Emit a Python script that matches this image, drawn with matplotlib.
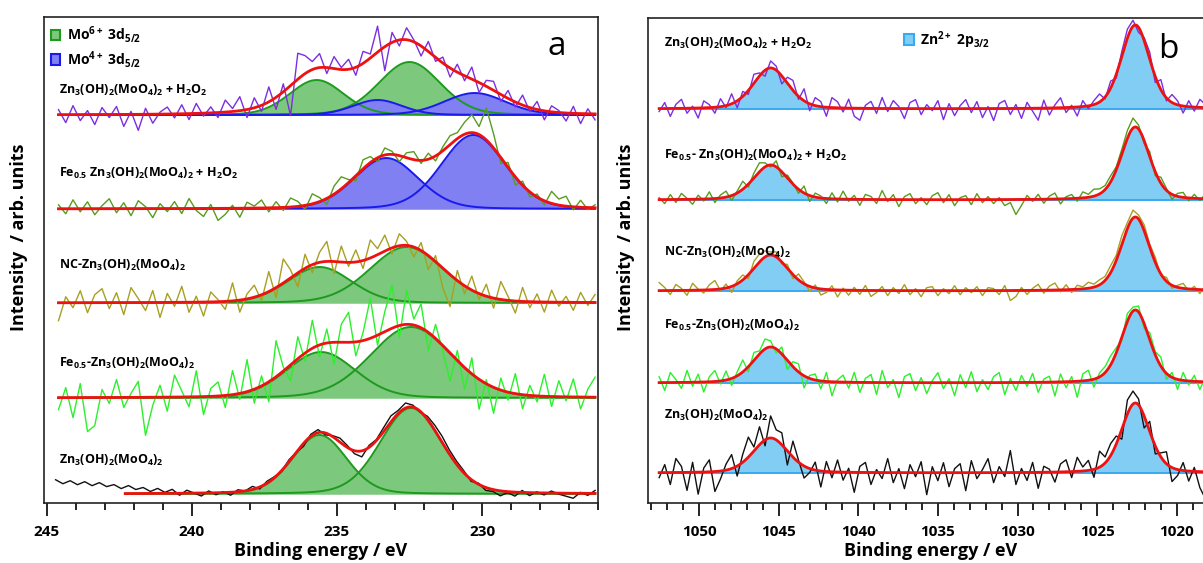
import numpy as np
import matplotlib
matplotlib.use("Agg")
import matplotlib.pyplot as plt
from matplotlib.patches import Rectangle
from matplotlib.ticker import MultipleLocator

plt.rcParams['font.family'] = ['Open Sans', 'DejaVu Sans']
plt.rcParams['mathtext.fontset'] = 'custom'
plt.rcParams['mathtext.rm'] = 'Open Sans'
plt.rcParams['mathtext.bf'] = 'Open Sans:bold'
plt.rcParams['mathtext.default'] = 'bf'

# ---------------- panel a : Mo 3d ----------------
a_labels = [r'Zn$_3$(OH)$_2$(MoO$_4$)$_2$ + H$_2$O$_2$',
            r'Fe$_{0.5}$ Zn$_3$(OH)$_2$(MoO$_4$)$_2$ + H$_2$O$_2$',
            r'NC-Zn$_3$(OH)$_2$(MoO$_4$)$_2$',
            r'Fe$_{0.5}$-Zn$_3$(OH)$_2$(MoO$_4$)$_2$',
            r'Zn$_3$(OH)$_2$(MoO$_4$)$_2$']
a_offsets = [388, 294, 200, 105, 9]
a_raw_colors = ['#7b2fe0', '#579c1f', '#a89f23', '#2bf02b', '#111111']
a_raw_range = [(244.6, 226.1)] * 4 + [(244.7, 226.1)]
a_fit_range = [(244.6, 226.1)] * 4 + [(242.3, 226.1)]
# components: (centre eV, height, FWHM eV)
a_mo6 = [[(235.7, 35, 2.2), (232.5, 53, 2.5)],
         [],
         [(235.6, 36, 2.6), (232.6, 56, 3.0)],
         [(235.55, 46, 2.8), (232.45, 71, 3.3)],
         [(235.6, 59, 2.2), (232.45, 86, 2.5)]]
a_mo4 = [[(233.6, 15, 2.0), (230.25, 22, 2.5)],
         [(233.3, 51, 2.6), (230.3, 74, 2.6)],
         [], [], []]
a_extra = [[(233.6, 13, 6.0)], [], [], [], []]   # unassigned envelope contribution
a_res = [
    [5, -8, 9, -6, 4, -10, 7, -3, 8, -12, 3, -16, 6, -9, 2, 7, -4, 9, -6, 10, -3, 6, -5, 12, 3,
     14, -8, 10, -6, 15, -12, 8, -30, 26, 18, 8, 14, -6, 12, 2, 10, -8, 12, 4, 26, -24, 10, -6,
     12, 2, -10, 10, -4, 6, -9, 8, -5, 12, -10, 6, 9, -7, 8, -5, 10, -4, 8, -9, 6, 2, -8, 7, -10, 5, -6],
    [4, -5, 9, -3, 7, -6, 3, 10, -4, 6, -7, 8, 2, -9, 5, -3, 7, -5, 10, -2, -8, 4, -12, -6, 3, -9,
     6, 2, 8, -4, 6, -3, 9, 5, -4, 10, 4, -6, 8, 12, 3, -5, 9, 6, -4, 7, 3, -6, 5, 8, -3, 6, -5, 4,
     9, 6, 12, 18, 8, 32, 14, -6, 5, -8, 4, -5, 3, -4, 12, 6, 10, -3, 7, -2, 3],
    [-18, 6, -5, 12, -10, 8, 14, -6, 10, -12, 15, 4, -8, 12, -15, 9, -4, 16, -10, 6, -14, 10, 2,
     -8, 18, -12, 5, 12, -6, 20, -10, 24, 8, -14, 14, -8, 10, 20, -12, 16, -4, 12, -8, 18, 6, 16,
     -6, 12, 4, -10, 8, -14, 6, -20, -32, 10, -8, 14, -6, 12, -10, 18, 4, -12, 14, -6, 8, -10, 12,
     -4, 6, -8, 10, -3, 8],
    [-12, 10, -20, 14, -34, -28, 8, -6, 18, -10, 4, 16, -38, -8, 12, -14, 22, 6, -10, 26, -18, 8,
     14, -12, 24, -6, 32, -14, 10, -20, 36, 4, -16, 22, -8, 28, -12, 14, -22, 18, 30, -14, 8, 40,
     -10, 20, 43, -12, 34, 6, 24, -18, 14, -6, -28, 10, -22, 16, -30, 4, -26, 12, -8, 20, -14, 10,
     -6, 22, -10, 16, -4, 18, -12, 8, 20],
    [14, 10, 13, 9, 12, 8, 11, 7, 9, 5, 8, 4, 6, 2, 5, 1, 4, -2, 3, 0, -3, 2, -2, 1, -3, 2, 0, 3,
     -2, 2, 1, -1, 2, 0, -3, 2, 3, -2, 1, 4, 2, -3, -6, 2, 1, 4, 6, 3, 5, 2, -1, 3, 5, 6, 4, 3, 2,
     -2, 1, -3, -2, -5, -1, -4, 2, -3, 1, -2, 2, -1, -3, -5, 1, -2, 3],
]

# ---------------- panel b : Zn 2p ----------------
b_labels = [r'Zn$_3$(OH)$_2$(MoO$_4$)$_2$ + H$_2$O$_2$',
            r'Fe$_{0.5}$- Zn$_3$(OH)$_2$(MoO$_4$)$_2$ + H$_2$O$_2$',
            r'NC-Zn$_3$(OH)$_2$(MoO$_4$)$_2$',
            r'Fe$_{0.5}$-Zn$_3$(OH)$_2$(MoO$_4$)$_2$',
            r'Zn$_3$(OH)$_2$(MoO$_4$)$_2$']
b_offsets = [394, 303, 212, 120, 30]
b_raw_colors = ['#7b2fe0', '#579c1f', '#a89f23', '#2bf02b', '#111111']
b_range = (1052.5, 1018.2)
b_zn_2p12 = [(1045.5, 41, 2.6), (1045.5, 35, 2.6), (1045.5, 36, 2.6), (1045.5, 36, 2.6), (1045.5, 35, 2.6)]
b_zn_2p32 = [(1022.6, 84, 2.1), (1022.6, 73, 2.1), (1022.6, 74, 2.1), (1022.6, 73, 2.1), (1022.6, 70, 2.1)]
b_res = [
    [-3, 6, -8, 4, 9, -5, 2, -10, 7, 3, -6, 8, -2, 10, -7, 5, -4, 9, 3, -6, 7, 4, -8, 6, 10, -3,
     12, -7, 8, 5, -9, 10, 6, -4, 9, -8, -12, 3, 7, -5, 11, -3, 8, 2, -10, 6, 9, -6, 4, -2, 8, -11,
     5, -7, 3, 9, -4, 7, -9, 2, -12, 5, 8, -6, 4, -10, 6, -3, -12, 8, -7, 3, 10, -5, 2, -9, 6, -3,
     4, 8, -2, 7, -4, 5, 9, 6, -5, 3, 7, -6, 10, -3, 8, 4, -7, 6, -4, 8, 3],
    [2, -4, 5, -3, 6, 1, -5, 4, -2, 7, -4, 3, 6, -5, 2, 8, -3, 5, 9, 4, -2, 6, -5, 3, 1, -4, 7,
     -6, 4, 2, -5, 6, -3, 8, -2, 4, -6, 5, 3, -4, 9, -2, 5, -7, 3, 6, -4, 2, -5, 4, 7, -3, 5, -6,
     2, 4, -5, 6, -3, 3, -4, 2, -6, -3, -15, -6, 4, -2, 5, -4, 3, 6, -5, 2, 4, -3, 6, 3, 7, 5, 4,
     6, 3, 5, 8, 10, 4, -3, 5, -4, 6, 2, -5, 3, 5, -3, 4, -2, 5],
    [8, 3, -4, 6, 2, -5, 7, 1, -3, 5, 9, -2, 4, -6, 3, 5, -4, 7, 8, 6, 3, 5, -2, 4, -4, 6, 2, -5,
     3, -6, -3, 4, -7, 2, -5, 3, -4, 5, -6, -2, 4, -5, 3, -3, 6, -4, 2, -6, 3, 4, -5, 2, -3, 5, -4,
     3, -2, 4, -5, 3, 2, -4, 5, -10, -6, 3, -4, 2, 6, -3, 4, 7, -2, 5, -3, 4, 2, 6, 3, 5, 4, 7, 5,
     9, 6, 8, 4, 6, 3, 5, -2, 4, -3, 2, 5, -2, 3, -4, 4],
    [6, -8, 10, 3, -6, 12, -4, 8, -10, 5, 11, -3, 9, -7, 4, 12, -5, 8, 3, 10, 6, -4, 7, -9, 5, 8,
     -12, 3, 6, -8, 9, -14, 2, 7, -6, 10, -10, 4, 8, -12, 12, -5, 3, -15, 6, 9, -8, 5, -11, 2, 10,
     -6, 4, -13, 8, -5, 11, -9, 3, -7, 6, 10, -12, 4, -8, 7, -4, 9, -10, 3, 6, -14, 8, -6, 5, -16,
     7, 10, -8, 4, 6, 9, 5, -3, 8, 4, 6, -5, 7, 3, 9, -6, 5, -10, 8, -4, 6, -8, 5],
    [-5, 8, -12, 14, 6, -18, 10, -22, 4, 12, -20, -8, 6, 14, -10, 8, 20, 4, 18, -6, 22, 10, 12,
     -14, 16, 2, -12, -4, 8, -16, 10, -6, 12, -8, 4, -20, 6, 10, -12, 3, -6, 14, -10, 4, -16, 8,
     -4, 11, -22, 6, -8, 10, -14, 4, 9, -18, 12, -6, 3, 14, -10, 6, -4, 22, -12, 4, -8, 10, -16,
     6, 3, -10, 8, 12, -6, 14, 4, 10, -8, 16, 6, 12, 8, -10, 14, 13, 6, -12, 10, -8, 4, 12, -14,
     -6, 8, -10, 4, -16, -27],
]

a_ticks = [245, 240, 235, 230]
b_ticks = [1050, 1045, 1040, 1035, 1030, 1025, 1020]

RED = '#ee1111'
G_FILL, G_LINE = '#7cc87c', '#1e9a1e'
B_FILL, B_LINE = '#8080f2', '#1a1aee'
Z_FILL, Z_LINE = '#82cdf4', '#3aaaf0'


def pv(E, c, h, w, m):
    u = (E - c) / w
    return h * ((1 - m) * np.exp(-4 * np.log(2) * u ** 2) + m / (1 + 4 * u ** 2))


W, H = 1203, 563
fig = plt.figure(figsize=(W / 100, H / 100), dpi=100)

def px_axes(l, r, t, b):
    return fig.add_axes([l / W, (H - b) / H, (r - l) / W, (b - t) / H])

axa = px_axes(44, 598, 17, 503)
axb = px_axes(648, 1215, 18, 503)

# ---- panel a
M_A = 0.15
for i in range(5):
    off = a_offsets[i]
    Ef = np.linspace(a_fit_range[i][0], a_fit_range[i][1], 400)
    env = np.zeros_like(Ef)
    for comps, fc, lc in [(a_mo6[i], G_FILL, G_LINE), (a_mo4[i], B_FILL, B_LINE)]:
        for (c, h, w) in comps:
            y = pv(Ef, c, h, w, M_A)
            env += y
            axa.fill_between(Ef, off, off + y, color=fc, lw=0, zorder=1)
    for comps, lc in [(a_mo6[i], G_LINE), (a_mo4[i], B_LINE)]:
        for (c, h, w) in comps:
            axa.plot(Ef, off + pv(Ef, c, h, w, M_A), color=lc, lw=1.4, zorder=2)
    for (c, h, w) in a_extra[i]:
        env += pv(Ef, c, h, w, M_A)
    # raw
    res = np.array(a_res[i], float)
    Er = np.linspace(a_raw_range[i][0], a_raw_range[i][1], len(res))
    envr = np.zeros_like(Er)
    for comps in (a_mo6[i], a_mo4[i], a_extra[i]):
        for (c, h, w) in comps:
            envr += pv(Er, c, h, w, M_A)
    axa.plot(Er, off + envr + res, color=a_raw_colors[i], lw=1.0, zorder=3)
    axa.plot(Ef, off + env, color=RED, lw=2.0, zorder=4)

a_label_y = [413, 330, 238, 140, 43]
for lab, y in zip(a_labels, a_label_y):
    axa.text(244.6, y, lab, fontsize=9, fontweight='bold', va='center', ha='left', zorder=5)

axa.set_xlim(245.1, 226.0)
axa.set_ylim(0, 486)
axa.set_xticks(a_ticks)
axa.xaxis.set_minor_locator(MultipleLocator(1))

# legend a
for yy, fc, ec, lab in [(0.963, G_FILL, G_LINE, r'Mo$^{6+}$ 3d$_{5/2}$'),
                        (0.912, B_FILL, B_LINE, r'Mo$^{4+}$ 3d$_{5/2}$')]:
    axa.add_patch(Rectangle((0.012, yy - 0.011), 0.017, 0.022, transform=axa.transAxes,
                            facecolor=fc, edgecolor=ec, lw=1.5, zorder=6))
    axa.text(0.042, yy, lab, transform=axa.transAxes, fontsize=10, fontweight='bold',
             va='center', ha='left')
axa.text(0.925, 0.94, 'a', transform=axa.transAxes, fontsize=24, ha='center', va='center')

# ---- panel b
M_B = 0.3
for i in range(5):
    off = b_offsets[i]
    Ef = np.linspace(b_range[0], b_range[1], 600)
    env = np.zeros_like(Ef)
    for (c, h, w) in (b_zn_2p12[i], b_zn_2p32[i]):
        y = pv(Ef, c, h, w, M_B)
        env += y
        axb.fill_between(Ef, off, off + y, color=Z_FILL, lw=0, zorder=1)
    axb.plot(Ef, np.full_like(Ef, off), color=Z_LINE, lw=1.4, zorder=2)
    res = np.array(b_res[i], float)
    Er = np.linspace(b_range[0], b_range[1], len(res))
    envr = pv(Er, *b_zn_2p12[i], M_B) + pv(Er, *b_zn_2p32[i], M_B)
    axb.plot(Er, off + envr + res, color=b_raw_colors[i], lw=1.0, zorder=3)
    axb.plot(Ef, off + env, color=RED, lw=2.0, zorder=4)

b_label_y = [460, 348, 251, 178, 88]
for lab, y in zip(b_labels, b_label_y):
    axb.text(1052.2, y, lab, fontsize=9, fontweight='bold', va='center', ha='left', zorder=5)

axb.set_xlim(1053.2, 1017.6)
axb.set_ylim(0, 485)
axb.set_xticks(b_ticks)
axb.xaxis.set_minor_locator(MultipleLocator(1))

axb.add_patch(Rectangle((0.452, 0.944), 0.018, 0.022, transform=axb.transAxes,
                        facecolor=Z_FILL, edgecolor=Z_LINE, lw=1.5, zorder=6))
axb.text(0.479, 0.955, r'Zn$^{2+}$ 2p$_{3/2}$', transform=axb.transAxes, fontsize=10,
         fontweight='bold', va='center', ha='left')
axb.text(0.917, 0.935, 'b', transform=axb.transAxes, fontsize=24, ha='center', va='center')

for ax in (axa, axb):
    ax.set_yticks([])
    for s in ax.spines.values():
        s.set_linewidth(1.2)
        s.set_color('#222222')
    ax.tick_params(axis='x', which='major', direction='out', length=9, width=1.2, pad=7,
                   labelsize=11)
    ax.tick_params(axis='x', which='minor', direction='out', length=5, width=1.2)
    for t in ax.get_xticklabels():
        t.set_fontweight('bold')

for xc in (321, 931):
    fig.text(xc / W, (H - 551) / H, 'Binding energy / eV', fontsize=13, fontweight='bold',
             ha='center', va='center')
for xc in (19, 626):
    fig.text(xc / W, (H - 237) / H, 'Intensity  / arb. units', fontsize=13, fontweight='bold',
             rotation=90, ha='center', va='center')

fig.savefig('out.png', dpi=100)
